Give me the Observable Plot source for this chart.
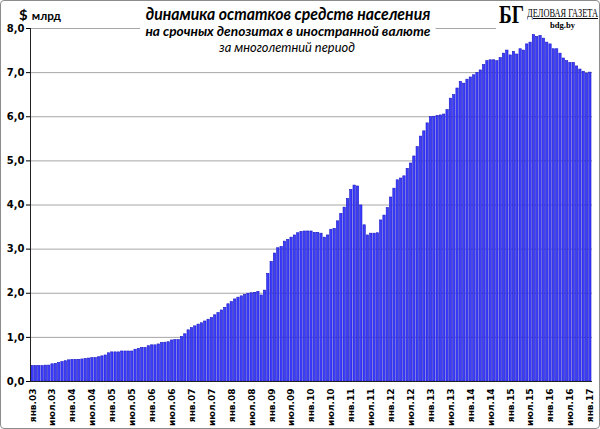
<!DOCTYPE html>
<html><head><meta charset="utf-8">
<script src="https://cdn.jsdelivr.net/npm/d3@7"></script>
<script src="https://cdn.jsdelivr.net/npm/@observablehq/plot@0.6"></script>
<style>
body{margin:0;background:#fff;}
#wrap{position:relative;width:600px;height:429px;overflow:hidden;}
#chart{position:absolute;left:0;top:0;}
.t{position:absolute;background:#fff;white-space:nowrap;color:#000;line-height:1;transform-origin:left top;}
#border{position:absolute;left:0;top:0;width:600px;height:429px;box-sizing:border-box;border:1px solid #8c8c8c;border-radius:4px;pointer-events:none;}
</style></head><body>
<div id="wrap">
<div id="chart"></div>
<div class="t" id="unit" style="font-family:Lato;font-weight:bold;background:transparent"><span style="font-size:14px">$</span> <span style="font-size:11px">млрд</span></div>
<div class="t" id="title" style="font-family:Lato;font-weight:bold;font-style:italic;font-size:17px;padding:0 4px">динамика остатков средств населения</div>
<div class="t" id="sub" style="font-family:Lato;font-weight:bold;font-style:italic;font-size:12.5px;padding:1px 5px">на срочных депозитах в иностранной валюте</div>
<div class="t" id="sub2" style="font-family:Lato;font-style:italic;font-size:12.5px;padding:0 3px">за многолетний период</div>
<div class="t" id="logo" style="left:496px;top:0;width:104px;height:32px;"></div>
<div class="t" id="bg" style="font-family:'Liberation Serif';font-weight:bold;font-size:25px;background:transparent">БГ</div>
<div class="t" id="dg" style="font-family:'Liberation Serif';font-size:12px;text-decoration:underline;background:transparent">ДЕЛОВАЯ ГАЗЕТА</div>
<div class="t" id="site" style="font-family:'Liberation Serif';font-weight:bold;font-size:9px;background:transparent">bdg.by</div>
<div id="border"></div>
</div>
<script>
const monthNames = ["янв","фев","мар","апр","май","июн","июл","авг","сен","окт","ноя","дек"];
const years = ["03","04","05","06","07","08","09","10","11","12","13","14","15","16","17"];

const v2003 = [0.35,0.35,0.35,0.35,0.36,0.36,0.39,0.40,0.42,0.44,0.46,0.48];
const v2004 = [0.49,0.49,0.49,0.50,0.51,0.52,0.53,0.53,0.55,0.57,0.59,0.64];
const v2005 = [0.66,0.66,0.66,0.68,0.68,0.68,0.68,0.72,0.74,0.76,0.76,0.80];
const v2006 = [0.82,0.82,0.84,0.87,0.88,0.89,0.93,0.94,0.94,1.01,1.07,1.16];
const v2007 = [1.21,1.25,1.29,1.32,1.36,1.40,1.44,1.50,1.55,1.61,1.67,1.75];
const v2008 = [1.80,1.86,1.90,1.93,1.96,1.99,2.00,2.01,2.03,1.95,2.06,2.44];
const v2009 = [2.71,2.90,3.02,3.05,3.17,3.21,3.26,3.31,3.36,3.39,3.40,3.40];
const v2010 = [3.40,3.37,3.37,3.35,3.26,3.31,3.44,3.46,3.63,3.80,3.94,4.14];
const v2011 = [4.34,4.44,4.42,3.99,3.54,3.31,3.35,3.35,3.36,3.65,3.76,3.93];
const v2012 = [4.17,4.37,4.56,4.60,4.65,4.82,4.94,5.10,5.31,5.55,5.67,5.85];
const v2013 = [5.99,6.00,6.02,6.03,6.05,6.15,6.41,6.49,6.64,6.79,6.75,6.84];
const v2014 = [6.89,6.94,6.99,7.05,7.17,7.26,7.28,7.28,7.26,7.33,7.43,7.50];
const v2015 = [7.39,7.47,7.41,7.53,7.50,7.64,7.68,7.85,7.81,7.83,7.77,7.68];
const v2016 = [7.64,7.53,7.53,7.43,7.32,7.26,7.22,7.22,7.14,7.07,7.02,6.98];
const v2017 = [7.00];

const tickLabels = ["янв.03","июл.03","янв.04","июл.04","янв.05","июл.05","янв.06","июл.06","янв.07","июл.07","янв.08","июл.08","янв.09","июл.09","янв.10","июл.10","янв.11","июл.11","янв.12","июл.12","янв.13","июл.13","янв.14","июл.14","янв.15","июл.15","янв.16","июл.16","янв.17"];
const yTicks = [0,1,2,3,4,5,6,7,8];

const yearValues = [v2003,v2004,v2005,v2006,v2007,v2008,v2009,v2010,v2011,v2012,v2013,v2014,v2015,v2016,v2017];
const data = [];
yearValues.forEach((arr, yi) => arr.forEach((v, mi) => data.push({label: monthNames[mi] + "." + years[yi], value: v})));
const categories = data.map(d => d.label);

const fmt = d => d.toFixed(1).replace(".", ",");

const plot = Plot.plot({
  width: 600, height: 429,
  marginLeft: 30, marginRight: 8, marginTop: 28, marginBottom: 48,
  style: {background: "transparent", fontFamily: "DejaVu Sans", fontWeight: "bold", color: "#000"},
  x: {type: "band", domain: categories, padding: 0.3, label: null, axis: null},
  y: {domain: [0, 8], label: null, axis: null},
  marks: [
    Plot.ruleY(yTicks.slice(1), {stroke: "#a6a6a6", strokeWidth: 1}),
    Plot.barY(data, {x: "label", y: "value", fill: "#3d3dff", stroke: "#1818c4", strokeWidth: 0.6}),
    Plot.ruleY([0], {stroke: "#222"}),
    Plot.axisY({ticks: yTicks, tickFormat: fmt, tickSize: 4, tickPadding: 2, fontSize: 10, label: null}),
    Plot.axisX({ticks: tickLabels, tickRotate: -90, tickSize: 0, tickPadding: 7, fontSize: 9, label: null}),
    Plot.frame({anchor: "left", stroke: "#222"})
  ]
});
document.getElementById("chart").appendChild(plot);

function place(id, left, top, width) {
  const el = document.getElementById(id);
  el.style.left = left + "px";
  el.style.top = top + "px";
  if (width) {
    const w = el.getBoundingClientRect().width;
    el.style.transform = `scaleX(${width / w})`;
  }
}
function placeCenter(id, cx, top, width) {
  place(id, cx - width / 2, top, width);
}
place("unit", 19, 6, 42);
placeCenter("title", 288, 5, 292);
placeCenter("sub", 288, 25, 296);
placeCenter("sub2", 287, 42, 142);
place("bg", 499, 2, 25);
place("dg", 527, 7, 71);
place("site", 550, 21, 25);
</script>
</body></html>
